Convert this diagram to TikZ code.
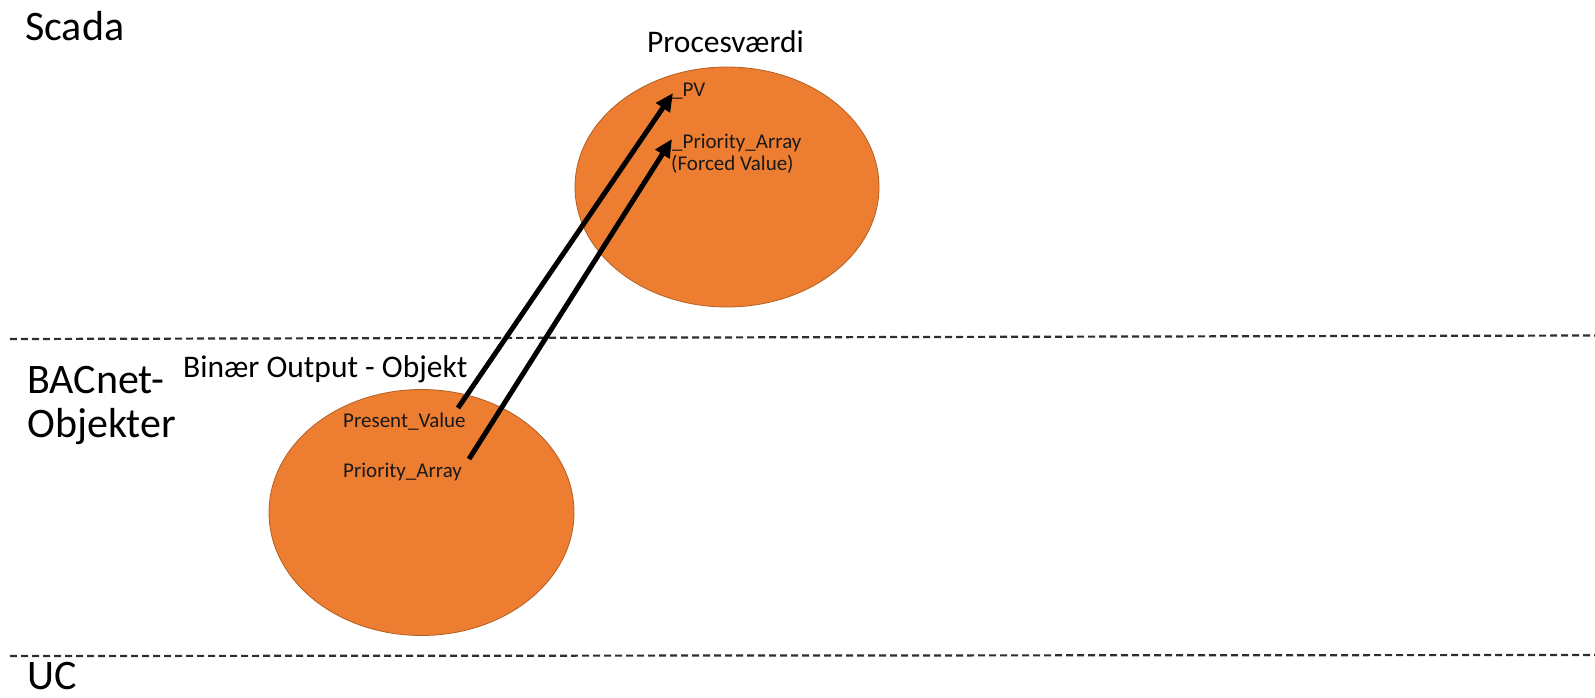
\documentclass[tikz,border=0pt]{standalone}
\usepackage{fontspec}
\setmainfont{Carlito}
\usetikzlibrary{arrows.meta,shapes.geometric}
\definecolor{procorange}{HTML}{ED7D31}
\definecolor{procedge}{HTML}{B35F22}
\definecolor{divider}{HTML}{2E2E2E}
\tikzset{
  layerlabel/.style={anchor=base west,inner sep=0pt,font=\fontsize{42}{46}\selectfont},
  objtitle/.style={anchor=base west,inner sep=0pt,font=\fontsize{31.5}{35}\selectfont},
  proplabel/.style={anchor=base west,inner sep=0pt,font=\fontsize{21}{24}\selectfont,text=black!90},
  blob/.style={ellipse,fill=procorange,draw=procedge,line width=0.8pt,inner sep=0pt},
  divline/.style={draw=divider,line width=2.2pt,dash pattern=on 7pt off 4pt},
  link/.style={draw=black,line width=5pt,-{Triangle[length=18pt,width=16pt]}}
}
\begin{document}
\begin{tikzpicture}[x=1pt,y=-1pt]
  \useasboundingbox (0,0) rectangle (1595,698);

  % layer dividers
  \coordinate (d1a) at (10,339);
  \coordinate (d1b) at (1595,335.5);
  \coordinate (d2a) at (10,656);
  \coordinate (d2b) at (1595,655);
  \path[divline] (d1a) -- (d1b);
  \path[divline] (d2a) -- (d2b);

  % layer names
  \node[layerlabel] (scada) at (25,41) {Scada};
  \node[layerlabel] (bac1) at (27,393) {BACnet-};
  \node[layerlabel] (bac2) at (27,437) {Objekter};
  \node[layerlabel] (uc) at (27,689) {UC};

  % objects
  \node[blob,minimum width=304pt,minimum height=240pt] (procobj) at (727,187) {};
  \node[blob,minimum width=305pt,minimum height=246pt] (binobj) at (421.5,512.5) {};
  \node[objtitle] (proc) at (647,53) {Procesværdi};
  \node[objtitle] (bin) at (183,377) {Binær Output - Objekt};

  % properties
  \node[proplabel] (pv) at (672,97) {\_PV};
  \node[proplabel] (pa) at (672,148) {\_Priority\_Array};
  \node[proplabel] (fv) at (671,171) {(Forced Value)};
  \node[proplabel] (presval) at (343,427) {Present\_Value};
  \node[proplabel] (prioarr) at (343,477) {Priority\_Array};

  % property links
  \coordinate (pvsrc) at (458,408);
  \coordinate (pvdst) at (673,93);
  \coordinate (pasrc) at (469,459);
  \coordinate (padst) at (672,139);
  \path[link] (pvsrc) -- (pvdst);
  \path[link] (pasrc) -- (padst);
\end{tikzpicture}
\end{document}
